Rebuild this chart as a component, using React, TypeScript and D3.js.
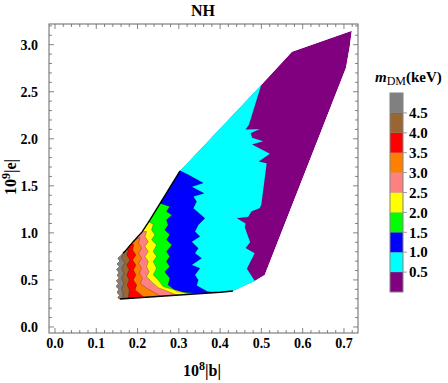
import React from "react";
import * as d3 from "d3";

const width = 448;
const height = 383;
const frame = { left: 49, right: 358, top: 24, bottom: 333 };

// legend levels of m_DM (keV), bottom band first
const levels = [0.5, 1.0, 1.5, 2.0, 2.5, 3.0, 3.5, 4.0, 4.5];
const bandColors = ["#800080", "#00ffff", "#0000ff", "#00ff00", "#ffff00", "#ff8080", "#ff8000", "#ff0000", "#996633", "#808080"];

const xTicks = [0, 0.1, 0.2, 0.3, 0.4, 0.5, 0.6, 0.7];
const yTicks = [0, 0.5, 1.0, 1.5, 2.0, 2.5, 3.0];

// allowed region in the (|b|, |e|) plane
const outline: [number, number][] = [
  [0.719, 3.149], [0.714, 2.979], [0.705, 2.755], [0.508, 0.553], [0.484, 0.489],
  [0.431, 0.383], [0.40, 0.369], [0.157, 0.298], [0.152, 0.31], [0.156, 0.34],
  [0.150, 0.37], [0.155, 0.40], [0.148, 0.43], [0.154, 0.46], [0.149, 0.49],
  [0.156, 0.52], [0.150, 0.55], [0.155, 0.58], [0.149, 0.61], [0.156, 0.64],
  [0.150, 0.67], [0.157, 0.70], [0.152, 0.73], [0.160, 0.76], [0.165, 0.785],
  [0.169, 0.801], [0.189, 0.904], [0.211, 1.011], [0.230, 1.138], [0.303, 1.66],
  [0.500, 2.574], [0.574, 2.926],
];

// contour boundaries, top to bottom; the band on the left is the higher mass
const edge05 = [
  [0.500, 2.574], [0.470, 2.15], [0.462, 2.10], [0.497, 2.105], [0.474, 2.06], [0.478, 2.01],
  [0.505, 1.975], [0.478, 1.94], [0.521, 1.84], [0.494, 1.76], [0.513, 1.741], [0.500, 1.30],
  [0.496, 1.263], [0.476, 1.227], [0.468, 1.17], [0.441, 1.156], [0.462, 1.10], [0.460, 1.06],
  [0.473, 0.90], [0.462, 0.84], [0.484, 0.784], [0.465, 0.62], [0.484, 0.49], [0.484, 0.40],
];
const edge10 = [
  [0.303, 1.66], [0.323, 1.617], [0.359, 1.53], [0.331, 1.49], [0.361, 1.42], [0.335, 1.386],
  [0.343, 1.333], [0.335, 1.262], [0.363, 1.156], [0.347, 1.085], [0.339, 1.014], [0.351, 0.961],
  [0.331, 0.907], [0.347, 0.837], [0.339, 0.784], [0.355, 0.731], [0.331, 0.66], [0.351, 0.624],
  [0.339, 0.553], [0.347, 0.5], [0.343, 0.44], [0.37, 0.375], [0.42, 0.36],
];
const edge15 = [
  [0.250, 1.40], [0.254, 1.314], [0.278, 1.28], [0.270, 1.227], [0.283, 1.191], [0.270, 1.138],
  [0.274, 1.085], [0.266, 1.032], [0.278, 0.979], [0.270, 0.926], [0.283, 0.872], [0.270, 0.801],
  [0.278, 0.748], [0.270, 0.695], [0.278, 0.641], [0.266, 0.588], [0.278, 0.518], [0.274, 0.447],
  [0.295, 0.376], [0.36, 0.35],
];
const edge20 = [
  [0.224, 1.20], [0.228, 1.117], [0.238, 1.092], [0.234, 1.032], [0.242, 0.979], [0.234, 0.926],
  [0.246, 0.872], [0.238, 0.801], [0.246, 0.748], [0.238, 0.695], [0.246, 0.624], [0.238, 0.553],
  [0.250, 0.5], [0.262, 0.429], [0.319, 0.359], [0.33, 0.33],
];
const edge25 = [
  [0.206, 1.08], [0.211, 1.015], [0.222, 1.014], [0.218, 0.961], [0.226, 0.907], [0.218, 0.854],
  [0.226, 0.801], [0.218, 0.748], [0.226, 0.695], [0.222, 0.641], [0.228, 0.588], [0.222, 0.535],
  [0.234, 0.482], [0.250, 0.418], [0.295, 0.34], [0.30, 0.30],
];
const edge30 = [
  [0.190, 1.00], [0.194, 0.93], [0.206, 0.95], [0.202, 0.89], [0.210, 0.837], [0.202, 0.784],
  [0.210, 0.731], [0.202, 0.677], [0.210, 0.624], [0.204, 0.571], [0.212, 0.518], [0.206, 0.465],
  [0.222, 0.412], [0.254, 0.333], [0.26, 0.30],
];
const edge35 = [
  [0.180, 0.93], [0.184, 0.878], [0.191, 0.88], [0.188, 0.819], [0.196, 0.766], [0.188, 0.713],
  [0.196, 0.66], [0.190, 0.606], [0.196, 0.553], [0.190, 0.5], [0.198, 0.447], [0.194, 0.394],
  [0.214, 0.322], [0.22, 0.29],
];
const edge40 = [
  [0.170, 0.86], [0.173, 0.82], [0.178, 0.819], [0.174, 0.766], [0.182, 0.713], [0.174, 0.66],
  [0.180, 0.606], [0.174, 0.553], [0.180, 0.5], [0.175, 0.447], [0.180, 0.394], [0.178, 0.322],
  [0.18, 0.28],
];
const edge45 = [
  [0.160, 0.83], [0.164, 0.795], [0.165, 0.784], [0.161, 0.731], [0.169, 0.677], [0.161, 0.624],
  [0.167, 0.571], [0.161, 0.518], [0.167, 0.465], [0.161, 0.412], [0.165, 0.359], [0.164, 0.312],
  [0.164, 0.28],
];
const edges = [edge05, edge10, edge15, edge20, edge25, edge30, edge35, edge40, edge45];

// dark border of the region
const edgeUpperLeft = [[0.303, 1.66], [0.230, 1.138], [0.211, 1.011], [0.189, 0.904], [0.169, 0.801], [0.165, 0.785]];
const edgeBottom = [[0.157, 0.298], [0.40, 0.369], [0.431, 0.383]];

const serif = "'Liberation Serif', 'Times New Roman', serif";

export default function App() {
  const x = d3.scaleLinear().domain([-0.0145, 0.734]).range([frame.left, frame.right]);
  const y = d3.scaleLinear().domain([-0.064, 3.22]).range([frame.bottom, frame.top]);
  const line = d3.line<number[]>().x((d) => x(d[0])).y((d) => y(d[1]));

  const leftOf = (b: number[][]) => {
    const pts = [[b[0][0], 5], ...b, [b[b.length - 1][0], -1], [-1, -1], [-1, 5]];
    return line(pts) + "Z";
  };

  const xMinor = d3.range(0, 0.7201, 0.02);
  const yMinor = d3.range(0, 3.201, 0.1);

  // colour bar
  const barTop = 93;
  const barBottom = 292;
  const barX = 390;
  const barW = 13;
  const cScale = d3.scaleLinear().domain([0, bandColors.length]).range([barBottom, barTop]);

  return (
    <svg width={width} height={height} style={{ position: "absolute", left: 0, top: 0, background: "#fff" }} fontFamily={serif}>
      <defs>
        <clipPath id="region">
          <path d={line(outline) + "Z"} />
        </clipPath>
      </defs>

      <g clipPath="url(#region)">
        <path d={line(outline) + "Z"} fill={bandColors[0]} />
        {edges.map((b, i) => (
          <path key={`band${i}`} d={leftOf(b)} fill={bandColors[i + 1]} />
        ))}
        {edges.map((b, i) => (
          <path key={`edge${i}`} d={line(b) ?? ""} fill="none" stroke="#000" strokeOpacity={i === 0 ? 0.15 : 0.3} strokeWidth={0.8} />
        ))}
      </g>
      <path d={line(edgeUpperLeft) ?? ""} fill="none" stroke="#000" strokeWidth={1.4} />
      <path d={line(edgeBottom) ?? ""} fill="none" stroke="#000" strokeWidth={1.4} />

      {/* frame */}
      <rect x={frame.left} y={frame.top} width={frame.right - frame.left} height={frame.bottom - frame.top} fill="none" stroke="#666" strokeWidth={1} />
      <g stroke="#666" strokeWidth={0.8}>
        {xMinor.map((v, i) => {
          const major = xTicks.some((t) => Math.abs(t - v) < 1e-6);
          const l = major ? 5 : 3;
          return (
            <g key={`xt${i}`}>
              <line x1={x(v)} x2={x(v)} y1={frame.bottom} y2={frame.bottom - l} />
              <line x1={x(v)} x2={x(v)} y1={frame.top} y2={frame.top + l} />
            </g>
          );
        })}
        {yMinor.map((v, i) => {
          const major = yTicks.some((t) => Math.abs(t - v) < 1e-6);
          const l = major ? 5 : 3;
          return (
            <g key={`yt${i}`}>
              <line x1={frame.left} x2={frame.left + l} y1={y(v)} y2={y(v)} />
              <line x1={frame.right} x2={frame.right - l} y1={y(v)} y2={y(v)} />
            </g>
          );
        })}
      </g>
      <g fontSize={14} fontWeight="bold" fill="#000">
        {xTicks.map((t) => (
          <text key={`xl${t}`} x={x(t)} y={348} textAnchor="middle">{t.toFixed(1)}</text>
        ))}
        {yTicks.map((t) => (
          <text key={`yl${t}`} x={38} y={y(t)} dy="0.35em" textAnchor="end">{t.toFixed(1)}</text>
        ))}
      </g>

      <text x={203} y={16} textAnchor="middle" fontSize={16} fontWeight="bold">NH</text>
      <text x={202} y={376} textAnchor="middle" fontSize={16} fontWeight="bold">
        10<tspan dy={-6} fontSize={12}>8</tspan><tspan dy={6}>|b|</tspan>
      </text>
      <text transform="translate(16,177) rotate(-90)" textAnchor="middle" fontSize={16} fontWeight="bold">
        10<tspan dy={-6} fontSize={12}>9</tspan><tspan dy={6}>|e|</tspan>
      </text>

      {/* legend */}
      <text x={375} y={82} fontSize={15} fontWeight="bold">
        <tspan fontStyle="italic">m</tspan>
        <tspan fontSize={12} fontWeight="normal" dy={3}>DM</tspan>
        <tspan dy={-3}>(keV)</tspan>
      </text>
      {bandColors.map((c, i) => (
        <rect key={`cb${i}`} x={barX} y={cScale(i + 1)} width={barW} height={cScale(i) - cScale(i + 1)} fill={c} stroke="#000" strokeOpacity={0.15} strokeWidth={0.5} />
      ))}
      <rect x={barX} y={barTop} width={barW} height={barBottom - barTop} fill="none" stroke="#888" strokeWidth={1} />
      {levels.map((v, i) => (
        <g key={`lv${v}`}>
          <line x1={barX + barW} x2={barX + barW + 4} y1={cScale(i + 1)} y2={cScale(i + 1)} stroke="#888" strokeWidth={0.8} />
          <text x={409} y={cScale(i + 1)} dy="0.35em" fontSize={15} fontWeight="bold">{v.toFixed(1)}</text>
        </g>
      ))}
    </svg>
  );
}
